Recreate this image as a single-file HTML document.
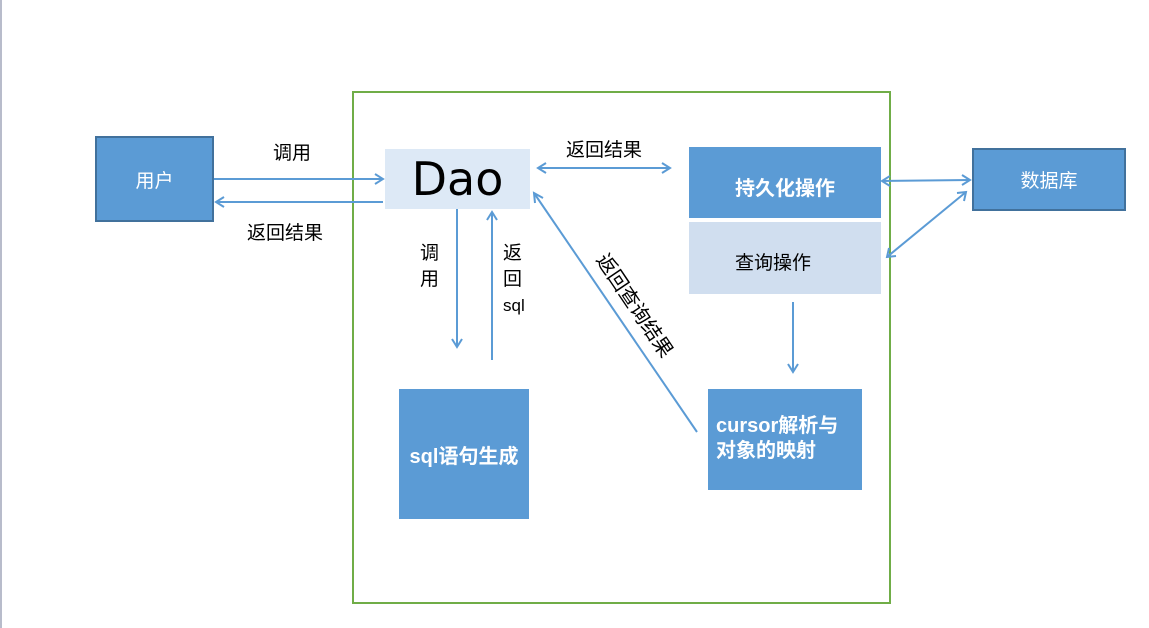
<!DOCTYPE html>
<html><head><meta charset="utf-8"><style>
body{margin:0;width:1149px;height:628px;background:#fff;overflow:hidden;position:relative;font-family:"Liberation Sans","Noto Sans CJK SC",sans-serif}
.b{position:absolute;box-sizing:border-box;display:flex;align-items:center;justify-content:center;font-size:19px}
.t{position:absolute;font-size:19px;color:#000;white-space:nowrap;line-height:1}
</style></head><body>
<div style="position:absolute;left:0;top:0;width:2px;height:628px;background:#b8bccb"></div>
<div style="position:absolute;left:352px;top:91px;width:539px;height:513px;box-sizing:border-box;border:2px solid #70ad47"></div>
<div class="b" style="left:95px;top:136px;width:119px;height:86px;background:#5b9bd5;border:2px solid #41719c;color:#fff">用户</div>
<div class="b" style="left:385px;top:149px;width:145px;height:60px;background:#dde9f6;color:#000;font-size:46px;font-family:'DejaVu Sans',sans-serif">Dao</div>
<div class="b" style="left:399px;top:389px;width:130px;height:130px;background:#5b9bd5;color:#fff;font-weight:bold;font-size:20px">sql语句生成</div>
<div class="b" style="left:689px;top:147px;width:192px;height:71px;background:#5b9bd5;color:#fff;font-weight:bold;font-size:20px;padding-top:8px">持久化操作</div>
<div class="b" style="left:689px;top:222px;width:192px;height:72px;background:#d0deef;color:#000;justify-content:flex-start;padding-left:46px;padding-top:6px">查询操作</div>
<div class="b" style="left:708px;top:389px;width:154px;height:101px;background:#5b9bd5;color:#fff;font-weight:bold;font-size:20px;justify-content:flex-start;padding-left:8px;line-height:25px;padding-bottom:2px">cursor解析与<br>对象的映射</div>
<div class="b" style="left:972px;top:148px;width:154px;height:63px;background:#5b9bd5;border:2px solid #41719c;color:#fff">数据库</div>
<div class="t" style="left:273px;top:144px">调用</div>
<div class="t" style="left:247px;top:224px">返回结果</div>
<div class="t" style="left:566px;top:141px">返回结果</div>
<div class="t" style="left:420px;top:241px;line-height:26px">调<br>用</div>
<div class="t" style="left:503px;top:241px;line-height:26px">返<br>回<br><span style="font-size:17px">sql</span></div>
<div class="t" style="left:634px;top:306px;transform:translate(-50%,-50%) rotate(56deg);font-size:20px">返回查询结果</div>
<svg width="1149" height="628" style="position:absolute;left:0;top:0" fill="none" stroke="#5b9bd5" stroke-width="2">
<line x1="214" y1="179" x2="383" y2="179"/><polyline points="375,174 383,179 375,184"/>
<line x1="383" y1="202" x2="216" y2="202"/><polyline points="224,197 216,202 224,207"/>
<line x1="457" y1="209" x2="457" y2="347"/><polyline points="452,339 457,347 462,339"/>
<line x1="492" y1="360" x2="492" y2="212"/><polyline points="487,220 492,212 497,220"/>
<line x1="538" y1="168" x2="670" y2="168"/><polyline points="546,163 538,168 546,173"/><polyline points="662,163 670,168 662,173"/>
<line x1="697" y1="432" x2="534" y2="193"/><polyline points="535,203 534,193 543,198"/>
<line x1="793" y1="302" x2="793" y2="372"/><polyline points="788,364 793,372 798,364"/>
<line x1="882" y1="181" x2="970" y2="180"/><polyline points="890,176 882,181 890,186"/><polyline points="962,175 970,180 962,185"/>
<line x1="887" y1="257" x2="966" y2="192"/><polyline points="889,248 887,257 896,256"/><polyline points="957,193 966,192 964,201"/>
</svg>
</body></html>
